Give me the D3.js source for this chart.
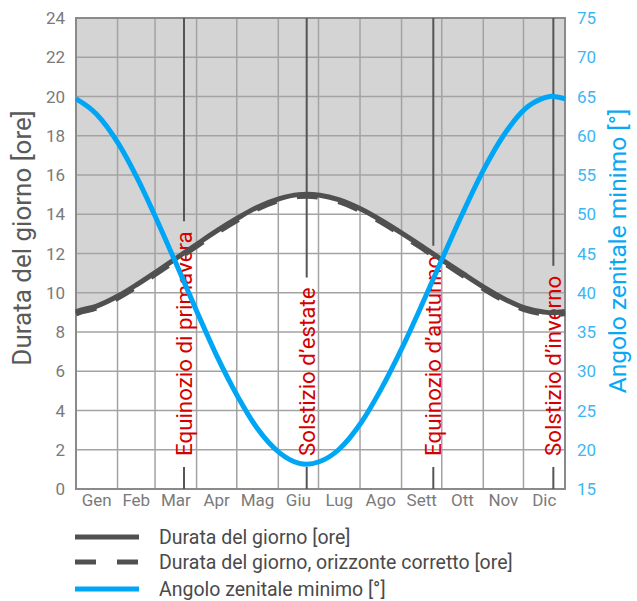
<!DOCTYPE html>
<html>
<head>
<meta charset="utf-8">
<script src="https://cdn.jsdelivr.net/npm/d3@7/dist/d3.min.js"></script>
<style>
  html, body { margin: 0; padding: 0; background: #fff; }
  svg { display: block; font-family: Roboto, "Noto Sans", sans-serif; }
</style>
</head>
<body>
<svg id="chart" width="637" height="601"></svg>
<script>
// Month names and the day of year on which each month ends
const months = ["Gen", "Feb", "Mar", "Apr", "Mag", "Giu", "Lug", "Ago", "Sett", "Ott", "Nov", "Dic"];
const monthEnds = [0, 31, 59, 90, 120, 151, 181, 212, 243, 273, 304, 334, 365];

// Sample days (day of year)
const days = [1, 15, 32, 46, 60, 74, 91, 105, 121, 135, 152, 166, 172, 182, 196, 213, 227, 244, 258, 274, 288, 305, 319, 335, 349, 355, 365];

// Day length [hours]
const dayLength = [9.05, 9.31, 9.86, 10.44, 11.07, 11.72, 12.51, 13.15, 13.82, 14.35, 14.80, 15.00, 15.02, 14.97, 14.74, 14.25, 13.72, 13.00, 12.38, 11.64, 11.01, 10.26, 9.71, 9.23, 9.02, 8.98, 9.04];

// Day length with corrected horizon [hours]
const dayLengthCorrected = [8.95, 9.21, 9.76, 10.34, 10.97, 11.62, 12.41, 13.05, 13.72, 14.25, 14.70, 14.90, 14.92, 14.87, 14.64, 14.15, 13.62, 12.90, 12.28, 11.54, 10.91, 10.16, 9.61, 9.13, 8.92, 8.88, 8.94];

// Minimum zenith angle [degrees]
const zenithMin = [64.6, 62.8, 58.9, 54.5, 49.4, 44.0, 37.3, 32.0, 26.7, 22.8, 19.6, 18.3, 18.16, 18.5, 20.0, 23.5, 27.5, 33.2, 38.4, 44.6, 49.9, 55.9, 60.0, 63.4, 64.8, 65.04, 64.7];

// Solstices and equinoxes
const eventNames = ["Equinozio di primavera", "Solstizio d\u2019estate", "Equinozio d\u2019autunno", "Solstizio d\u2019inverno"];
const eventDays = [80.6, 172.2, 266.7, 356.3];

// Axis ticks
const leftTicks = [0, 2, 4, 6, 8, 10, 12, 14, 16, 18, 20, 22, 24];
const rightTicks = [15, 20, 25, 30, 35, 40, 45, 50, 55, 60, 65, 70, 75];

// Legend entries
const legendLabels = ["Durata del giorno [ore]", "Durata del giorno, orizzonte corretto [ore]", "Angolo zenitale minimo [\u00b0]"];

const W = 637, H = 601;
const m = { left: 76, top: 18, right: 72, bottom: 112 };
const pw = W - m.left - m.right, ph = H - m.top - m.bottom;

const svg = d3.select("#chart");
const g = svg.append("g").attr("transform", `translate(${m.left},${m.top})`);

const x = d3.scaleLinear().domain([0, 365]).range([0, pw]);
const yL = d3.scaleLinear().domain([0, 24]).range([ph, 0]);
const yR = d3.scaleLinear().domain([15, 75]).range([ph, 0]);

const COL_DARK = "#505050";
const COL_BLUE = "#00a6f6";
const COL_GRID = "#a3a3a3";
const COL_RED = "#d40000";

const lenPts = days.map((d, i) => [d, dayLength[i]]);
const corrPts = days.map((d, i) => [d, dayLengthCorrected[i]]);
const zenPts = days.map((d, i) => [d, zenithMin[i]]);

// Night (gray) region above the day-length curve
const area = d3.area()
  .x(d => x(d[0])).y0(0).y1(d => yL(d[1]))
  .curve(d3.curveMonotoneX);
const edgePts = [[0, 9.02]].concat(lenPts);
g.append("path").datum(edgePts).attr("d", area).attr("fill", "#d4d4d4");

// Grid
g.append("g").selectAll("line").data(leftTicks).join("line")
  .attr("x1", 0).attr("x2", pw)
  .attr("y1", d => yL(d)).attr("y2", d => yL(d))
  .attr("stroke", COL_GRID).attr("stroke-width", 1.5);
g.append("g").selectAll("line").data(monthEnds).join("line")
  .attr("x1", d => x(d)).attr("x2", d => x(d))
  .attr("y1", 0).attr("y2", ph)
  .attr("stroke", COL_GRID).attr("stroke-width", 1.5);

// Frame
g.append("rect").attr("x", 0).attr("y", 0).attr("width", pw).attr("height", ph)
  .attr("fill", "none").attr("stroke", "#8a8a8a").attr("stroke-width", 2);

// Event markers: vertical line broken around the rotated label
const evG = g.append("g");
eventNames.forEach((name, i) => {
  const ex = x(eventDays[i]);
  const startY = ph - 33;
  const t = evG.append("text")
    .attr("transform", `translate(${ex},${startY}) rotate(-90)`)
    .attr("dy", "0.36em")
    .attr("fill", COL_RED)
    .attr("font-size", 22.3)
    .text(name);
  const len = t.node().getComputedTextLength();
  evG.insert("line", "text").attr("x1", ex).attr("x2", ex).attr("y1", 0).attr("y2", startY - len - 10)
    .attr("stroke", "#555").attr("stroke-width", 2);
  evG.insert("line", "text").attr("x1", ex).attr("x2", ex).attr("y1", startY + 11).attr("y2", ph)
    .attr("stroke", "#555").attr("stroke-width", 2);
});

// Curves
const lineL = d3.line().x(d => x(d[0])).y(d => yL(d[1])).curve(d3.curveMonotoneX);
const lineR = d3.line().x(d => x(d[0])).y(d => yR(d[1])).curve(d3.curveMonotoneX);

g.append("path").datum([[0, 8.92]].concat(corrPts)).attr("d", lineL)
  .attr("fill", "none").attr("stroke", COL_DARK).attr("stroke-width", 5)
  .attr("stroke-dasharray", "21,21");
g.append("path").datum(edgePts).attr("d", lineL)
  .attr("fill", "none").attr("stroke", COL_DARK).attr("stroke-width", 5);
g.append("path").datum([[0, 64.7]].concat(zenPts)).attr("d", lineR)
  .attr("fill", "none").attr("stroke", COL_BLUE).attr("stroke-width", 5);

// Left axis labels
g.append("g").selectAll("text").data(leftTicks).join("text")
  .attr("x", -11).attr("y", d => yL(d)).attr("dy", "0.36em")
  .attr("text-anchor", "end").attr("fill", "#7a7a7a").attr("font-size", 17)
  .text(d => d);

// Right axis labels
g.append("g").selectAll("text").data(rightTicks).join("text")
  .attr("x", pw + 12).attr("y", d => yR(d)).attr("dy", "0.36em")
  .attr("text-anchor", "start").attr("fill", "#3cb6f4").attr("font-size", 17)
  .text(d => d);

// Month labels
g.append("g").selectAll("text").data(months).join("text")
  .attr("x", (d, i) => x((monthEnds[i] + monthEnds[i + 1]) / 2))
  .attr("y", ph + 17)
  .attr("text-anchor", "middle").attr("fill", "#7a7a7a").attr("font-size", 17)
  .text(d => d);

// Axis titles
svg.append("text")
  .attr("transform", `translate(22,${238}) rotate(-90)`)
  .attr("dy", "0.36em").attr("text-anchor", "middle")
  .attr("fill", "#5a5a5a").attr("font-size", 26)
  .text("Durata del giorno [ore]");
svg.append("text")
  .attr("transform", `translate(617,${251}) rotate(-90)`)
  .attr("dy", "0.36em").attr("text-anchor", "middle")
  .attr("fill", "#0aa8f4").attr("font-size", 24.5)
  .text("Angolo zenitale minimo [\u00b0]");

// Legend
const legY = [537, 562, 589];
const leg = svg.append("g");
legendLabels.forEach((lab, i) => {
  const ln = leg.append("line").attr("x1", 75).attr("x2", 139)
    .attr("y1", legY[i]).attr("y2", legY[i])
    .attr("stroke", i === 2 ? COL_BLUE : COL_DARK).attr("stroke-width", 5);
  if (i === 1) ln.attr("stroke-dasharray", "21,21");
  leg.append("text").attr("x", 159).attr("y", legY[i]).attr("dy", "0.36em")
    .attr("fill", "#4a4a4a").attr("font-size", 19.5).text(lab);
});
</script>
</body>
</html>
